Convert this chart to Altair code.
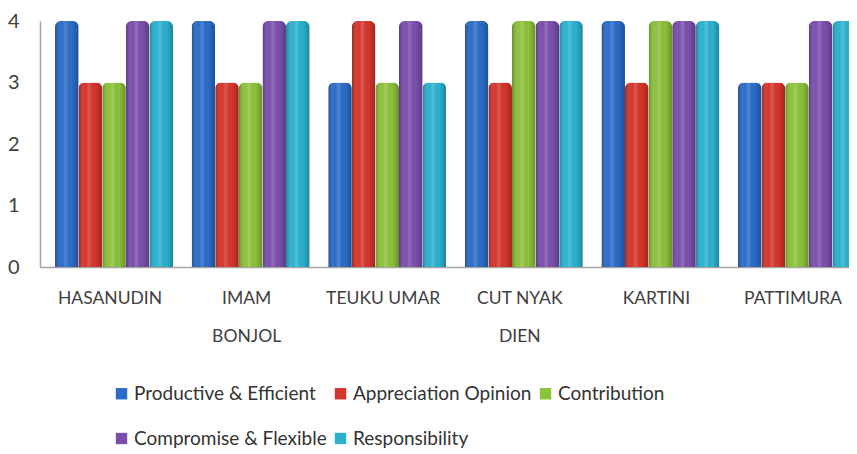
import altair as alt
import pandas as pd

groups = ["HASANUDIN", "IMAM BONJOL", "TEUKU UMAR", "CUT NYAK DIEN", "KARTINI", "PATTIMURA"]
series = ["Productive & Efficient", "Appreciation Opinion", "Contribution",
          "Compromise & Flexible", "Responsibility"]
colors = ["#2b6cc8", "#d6352c", "#8dc23b", "#7b4fae", "#2bb2cf"]

productive = [4, 4, 3, 4, 4, 3]
appreciation = [3, 3, 4, 3, 3, 3]
contribution = [3, 3, 3, 4, 4, 3]
compromise = [4, 4, 4, 4, 4, 4]
responsibility = [4, 4, 3, 4, 4, 4]

values = [productive, appreciation, contribution, compromise, responsibility]
rows = []
for s, vals in zip(series, values):
    for g, v in zip(groups, vals):
        rows.append({"group": g, "series": s, "value": v})
df = pd.DataFrame(rows)

label_expr = ("datum.value == 'IMAM BONJOL' ? ['IMAM', 'BONJOL'] : "
              "datum.value == 'CUT NYAK DIEN' ? ['CUT NYAK', 'DIEN'] : datum.value")

# the original chart is cropped on the right: the category range runs past the view
x_enc = alt.X("group:N", sort=groups, title=None,
              scale=alt.Scale(paddingInner=0.136, paddingOuter=0.11, range=[0, 831]),
              axis=alt.Axis(labelAngle=0, labelExpr=label_expr, labelFont="Lato",
                            labelFontSize=17.5, labelColor="#404040", labelPadding=31,
                            labelLineHeight=38, ticks=False, domainColor="#a6a6a6",
                            domainWidth=1.5, labelBaseline="middle", labelOffset=-4))
xo_enc = alt.XOffset("series:N", sort=series, scale=alt.Scale(domain=series))
y_enc = alt.Y("value:Q", title=None,
              scale=alt.Scale(domain=[0, 4]),
              axis=alt.Axis(values=[0, 1, 2, 3, 4], format="d", grid=False, ticks=False,
                            labelFont="Lato", labelFontSize=20, labelColor="#404040",
                            labelPadding=21, domainColor="#a6a6a6", domainWidth=1.5))

base = alt.Chart(df).mark_bar(cornerRadiusTopLeft=6, cornerRadiusTopRight=6).encode(
    x=x_enc, xOffset=xo_enc, y=y_enc,
    color=alt.Color("series:N", sort=series, title=None,
                    scale=alt.Scale(domain=series, range=colors),
                    legend=alt.Legend(orient="none", legendX=72, legendY=363,
                                      direction="horizontal", columns=3,
                                      symbolType="square", symbolSize=130,
                                      symbolStrokeWidth=0,
                                      labelFont="Lato", labelFontSize=19,
                                      labelColor="#333333", rowPadding=25,
                                      columnPadding=4, labelOffset=3,
                                      labelLimit=300)),
)

shade = alt.Chart(df).mark_bar(
    cornerRadiusTopLeft=6, cornerRadiusTopRight=6,
    color=alt.Gradient(
        gradient="linear", x1=0, x2=1, y1=0, y2=0,
        stops=[
            alt.GradientStop(color="rgba(0,0,0,0.28)", offset=0),
            alt.GradientStop(color="rgba(255,255,255,0.0)", offset=0.3),
            alt.GradientStop(color="rgba(255,255,255,0.18)", offset=0.45),
            alt.GradientStop(color="rgba(0,0,0,0.0)", offset=0.7),
            alt.GradientStop(color="rgba(0,0,0,0.25)", offset=1),
        ],
    ),
).encode(x=x_enc, xOffset=xo_enc, y=y_enc)

chart = alt.layer(base, shade).properties(
    width=809, height=246,
    autosize=alt.AutoSizeParams(type="none"),
    padding={"left": 32, "right": 0, "top": 13, "bottom": 186},
).configure_view(stroke=None)

chart.save("out.html", embed_options={"renderer": "svg", "actions": False})
